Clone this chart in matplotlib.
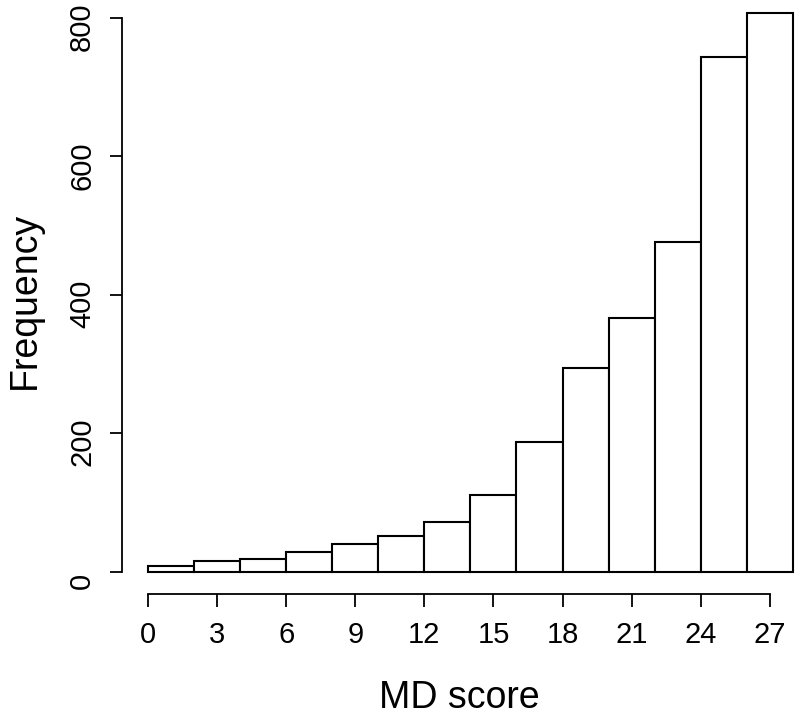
import matplotlib.pyplot as plt
import matplotlib.transforms as mtransforms
import numpy as np

plt.rcParams['font.family'] = ['Liberation Sans', 'DejaVu Sans']

# histogram of MD scores, bins of width 2
bin_edges = [0, 2, 4, 6, 8, 10, 12, 14, 16, 18, 20, 22, 24, 26, 28]
counts = [8, 16, 18, 29, 40, 52, 71, 110, 187, 294, 366, 476, 743, 807]
x_ticks = [0, 3, 6, 9, 12, 15, 18, 21, 24, 27]
y_ticks = [0, 200, 400, 600, 800]

fig = plt.figure(figsize=(8, 7.19), dpi=100)
ax = fig.add_axes([0.1528, 0.1739, 0.8705, 0.839])

lefts = np.array(bin_edges[:-1])
widths = np.diff(bin_edges)
ax.bar(lefts, counts, width=widths, align='edge', color='white',
       edgecolor='black', linewidth=1.5)

# R style axis padding of 4%
xr = bin_edges[-1] - bin_edges[0]
yr = max(counts)
ax.set_xlim(bin_edges[0] - 0.04 * xr, bin_edges[-1] + 0.04 * xr)
ax.set_ylim(-0.04 * yr, yr * 1.04)

for s in ['top', 'right']:
    ax.spines[s].set_visible(False)
ax.spines['bottom'].set_bounds(x_ticks[0], x_ticks[-1])
ax.spines['left'].set_bounds(y_ticks[0], y_ticks[-1])
ax.spines['bottom'].set_linewidth(1.3)
ax.spines['left'].set_linewidth(1.3)

ax.set_xticks(x_ticks)
ax.set_yticks(y_ticks)
ax.tick_params(axis='both', length=9, width=1.3, labelsize=21, pad=10.5)
ax.tick_params(axis='y', labelleft=False)

# y tick labels, rotated like R and sitting a bit below their ticks
trans = mtransforms.blended_transform_factory(ax.transAxes, ax.transData)
shift = mtransforms.ScaledTranslation(-26 / 100, -9 / 100, fig.dpi_scale_trans)
for v in y_ticks:
    ax.text(0, v, str(v), transform=trans + shift, rotation=90,
            ha='right', va='center', fontsize=21)

ax.set_xlabel('MD score', fontsize=27)
ax.xaxis.set_label_coords(0.4836, -0.1425)
ax.set_ylabel('Frequency', fontsize=27)
ax.yaxis.set_label_coords(-0.1137, 0.487)

fig.savefig('out.png', dpi=100)
